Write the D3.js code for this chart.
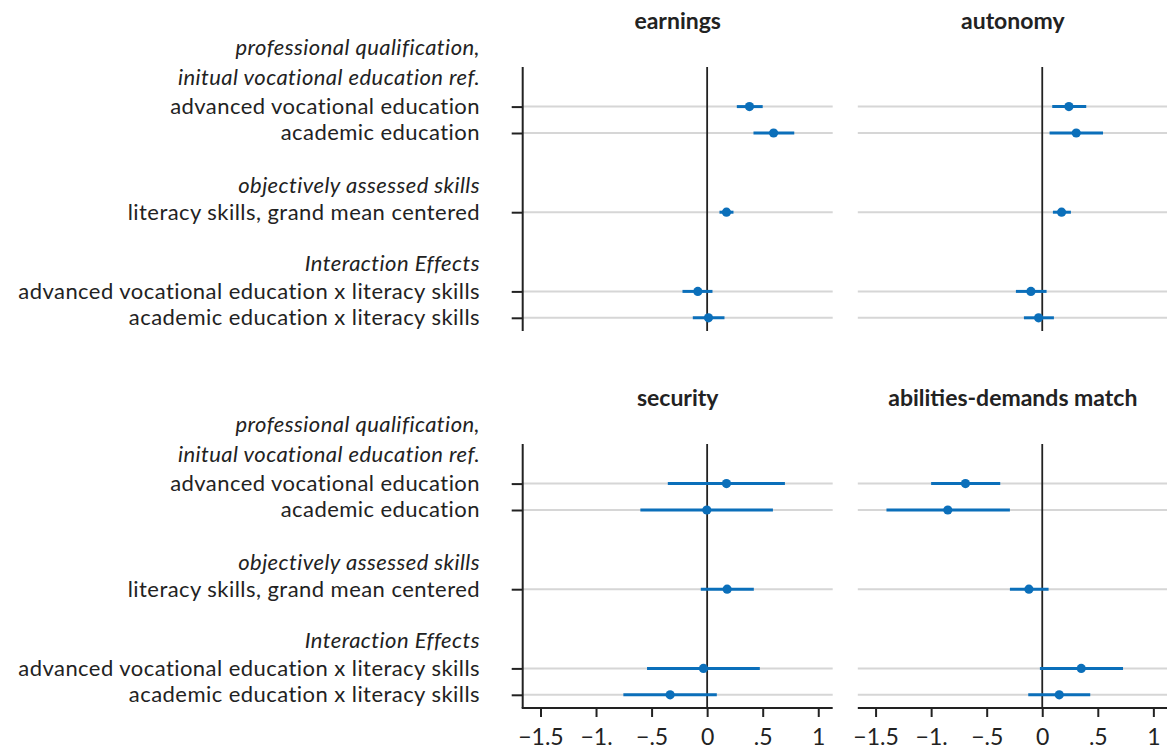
<!DOCTYPE html>
<html>
<head>
<meta charset="utf-8">
<script src="https://cdn.jsdelivr.net/npm/d3@7"></script>
<style>
  html, body { margin: 0; padding: 0; background: #fff; }
  svg { display: block; font-family: Lato, "Open Sans", sans-serif; }
</style>
</head>
<body>
<svg id="chart" width="1167" height="749"></svg>
<script>
// ---------- data ----------
const panelTitles = ["earnings", "autonomy", "security", "abilities-demands match"];
const rowLabels = [
  "advanced vocational education",
  "academic education",
  "literacy skills, grand mean centered",
  "advanced vocational education x literacy skills",
  "academic education x literacy skills"
];
const rowIndex = [2, 3, 6, 9, 10];
const headerLabels = [
  "professional qualification,",
  "initual vocational education ref.",
  "objectively assessed skills",
  "Interaction Effects"
];
const headerIndex = [-0.25, 0.9, 5.0, 7.95];

const earningsCoef = [0.381, 0.598, 0.174, -0.084, 0.012];
const earningsLo   = [0.267, 0.417, 0.111, -0.222, -0.129];
const earningsHi   = [0.500, 0.784, 0.237, 0.048, 0.156];

const autonomyCoef = [0.240, 0.306, 0.174, -0.102, -0.033];
const autonomyLo   = [0.090, 0.066, 0.096, -0.237, -0.165];
const autonomyHi   = [0.396, 0.547, 0.258, 0.039, 0.105];

const securityCoef = [0.174, -0.003, 0.180, -0.033, -0.333];
const securityLo   = [-0.354, -0.601, -0.057, -0.541, -0.754];
const securityHi   = [0.700, 0.592, 0.420, 0.474, 0.087];

const abilitiesCoef = [-0.691, -0.850, -0.120, 0.351, 0.153];
const abilitiesLo   = [-1.000, -1.402, -0.291, -0.021, -0.126];
const abilitiesHi   = [-0.378, -0.291, 0.057, 0.727, 0.432];

const xTickValues = [-1.5, -1, -0.5, 0, 0.5, 1];
const xTickLabels = ["\u22121.5", "\u22121.", "\u2212.5", "0", ".5", "1"];

const panelData = [
  [earningsCoef, earningsLo, earningsHi],
  [autonomyCoef, autonomyLo, autonomyHi],
  [securityCoef, securityLo, securityHi],
  [abilitiesCoef, abilitiesLo, abilitiesHi]
];

// ---------- layout ----------
const svg = d3.select("#chart");
const blue = "#0b6fba";
const dark = "#222";
const grid = "#d6d6d6";
const panelW = 310;
const panelLefts = [522.7, 857.8];
const panelTops = [67, 444];
const panelH = 264;
const labelSize = 22;

const x = d3.scaleLinear().domain([-1.66, 1.13]).range([0, panelW]);
const y = d3.scaleLinear().domain([0.5, 10.5]).range([0, panelH]);

panelTitles.forEach((title, p) => {
  const col = p % 2, rowP = Math.floor(p / 2);
  const g = svg.append("g").attr("transform", `translate(${panelLefts[col]},${panelTops[rowP]})`);
  const [coef, lo, hi] = panelData[p];

  // title
  g.append("text")
    .attr("x", panelW / 2).attr("y", -38.5)
    .attr("text-anchor", "middle")
    .attr("font-weight", "bold").attr("font-size", 23)
    .attr("fill", dark)
    .text(title);

  // gridlines
  g.selectAll("line.grid").data(rowIndex).join("line")
    .attr("class", "grid")
    .attr("x1", 0).attr("x2", panelW)
    .attr("y1", d => y(d)).attr("y2", d => y(d))
    .attr("stroke", grid).attr("stroke-width", 2);

  // zero line
  g.append("line")
    .attr("x1", x(0)).attr("x2", x(0))
    .attr("y1", 0).attr("y2", panelH)
    .attr("stroke", dark).attr("stroke-width", 1.8);

  // y axis (left column only)
  if (col === 0) {
    const yAxis = d3.axisLeft(y).tickValues(rowIndex).tickSize(11).tickFormat("");
    const ya = g.append("g").call(yAxis);
    ya.select(".domain").remove();
    ya.selectAll(".tick line").attr("stroke", dark).attr("stroke-width", 2);
    g.append("line")
      .attr("x1", 0).attr("x2", 0).attr("y1", 0).attr("y2", panelH)
      .attr("stroke", dark).attr("stroke-width", 2);

    // row labels
    g.selectAll("text.rowlab").data(rowLabels).join("text")
      .attr("class", "rowlab")
      .attr("x", -42.7).attr("y", (d, i) => y(rowIndex[i]) + 7.3)
      .attr("text-anchor", "end").attr("font-size", labelSize)
      .attr("letter-spacing", 0.45)
      .attr("fill", dark)
      .text(d => d);
    g.selectAll("text.headlab").data(headerLabels).join("text")
      .attr("class", "headlab")
      .attr("x", -42.7).attr("y", (d, i) => y(headerIndex[i]) + 7.3)
      .attr("text-anchor", "end").attr("font-size", labelSize)
      .attr("letter-spacing", 0.45)
      .attr("font-style", "italic")
      .attr("fill", dark)
      .text(d => d);
  }

  // x axis (bottom row only)
  if (rowP === 1) {
    const xAxis = d3.axisBottom(x).tickValues(xTickValues).tickSize(9).tickPadding(11.5)
      .tickFormat((d, i) => xTickLabels[i]);
    const xa = g.append("g").attr("transform", `translate(0,${panelH})`).call(xAxis);
    xa.select(".domain").remove();
    xa.selectAll(".tick line").attr("stroke", dark).attr("stroke-width", 2);
    xa.selectAll(".tick text").attr("font-size", 23).attr("fill", dark)
      .attr("font-family", "Lato, 'Open Sans', sans-serif");
    g.append("line")
      .attr("x1", col === 0 ? -1 : 0).attr("x2", panelW)
      .attr("y1", panelH).attr("y2", panelH)
      .attr("stroke", dark).attr("stroke-width", 2);
  }

  // CIs
  g.selectAll("line.ci").data(coef).join("line")
    .attr("class", "ci")
    .attr("x1", (d, i) => x(lo[i])).attr("x2", (d, i) => x(hi[i]))
    .attr("y1", (d, i) => y(rowIndex[i])).attr("y2", (d, i) => y(rowIndex[i]))
    .attr("stroke", blue).attr("stroke-width", 3);

  // points
  g.selectAll("circle.pt").data(coef).join("circle")
    .attr("class", "pt")
    .attr("cx", d => x(d)).attr("cy", (d, i) => y(rowIndex[i]))
    .attr("r", 4.6).attr("fill", blue);
});
</script>
</body>
</html>
